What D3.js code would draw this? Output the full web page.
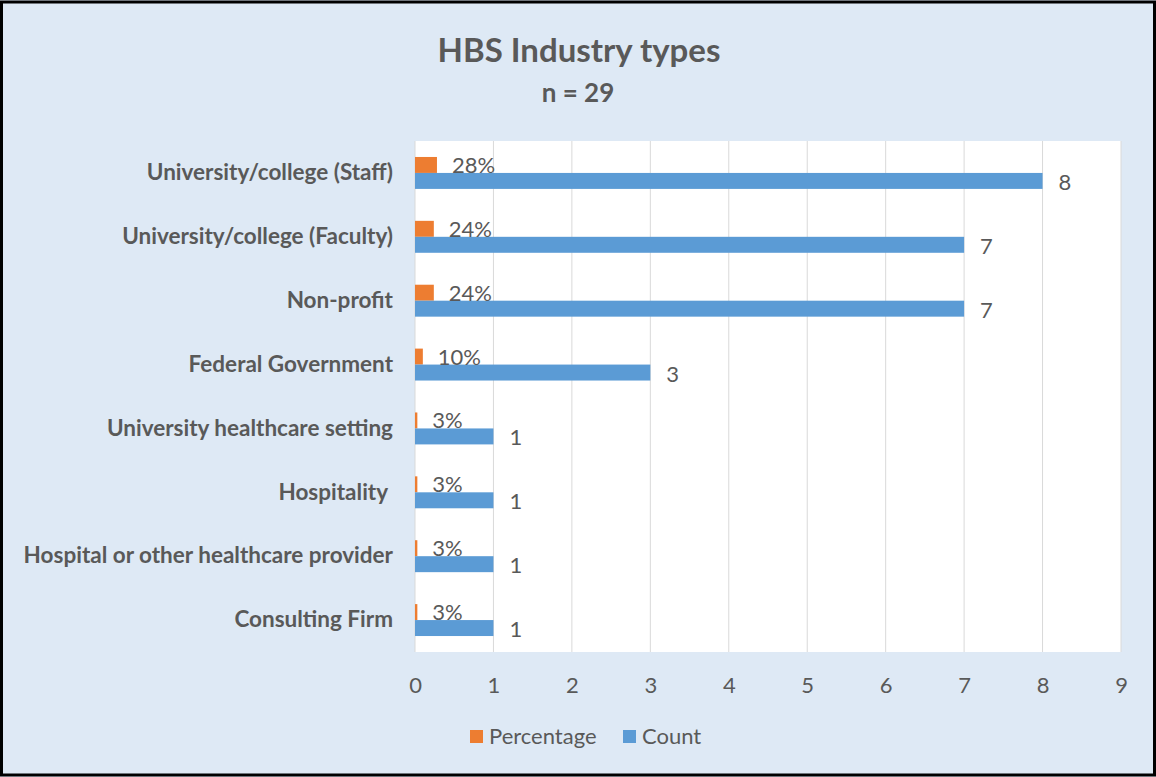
<!DOCTYPE html>
<html>
<head>
<meta charset="utf-8">
<script src="https://cdn.jsdelivr.net/npm/d3@7"></script>
<style>
  body { margin: 0; background: #fff; }
  svg text { font-family: Lato, "Open Sans", sans-serif; fill: #595959; white-space: pre; }
</style>
</head>
<body>
<svg id="chart" width="1156" height="777"></svg>
<script>
// chart values
const categories = [
  'University/college (Staff)',
  'University/college (Faculty)',
  'Non-profit',
  'Federal Government',
  'University healthcare setting',
  'Hospitality ',
  'Hospital or other healthcare provider',
  'Consulting Firm'
];
const percentage = [0.28, 0.24, 0.24, 0.10, 0.03, 0.03, 0.03, 0.03];
const percentLabels = ['28%', '24%', '24%', '10%', '3%', '3%', '3%', '3%'];
const count = [8, 7, 7, 3, 1, 1, 1, 1];
const xTicks = [0, 1, 2, 3, 4, 5, 6, 7, 8, 9];

const W = 1156, H = 777;
const plot = { left: 415, right: 1121, top: 141, bottom: 652 };

const svg = d3.select('#chart');

// background and frame
svg.append('rect').attr('x', 0).attr('y', 0).attr('width', W).attr('height', H).attr('fill', '#dee9f5');
svg.append('rect').attr('x', 1.5).attr('y', 2).attr('width', W - 3).attr('height', H - 4)
  .attr('fill', 'none').attr('stroke', '#000').attr('stroke-width', 3);

// plot area
svg.append('rect')
  .attr('x', plot.left).attr('y', plot.top)
  .attr('width', plot.right - plot.left).attr('height', plot.bottom - plot.top)
  .attr('fill', '#fff');

// scales
const x = d3.scaleLinear().domain([0, 9]).range([plot.left, plot.right]);
const y = d3.scaleBand().domain(categories).range([plot.top, plot.bottom]).paddingInner(0.5).paddingOuter(0.25);
const sub = d3.scaleBand().domain(['Percentage', 'Count']).range([0, y.bandwidth()]);
const color = d3.scaleOrdinal().domain(['Percentage', 'Count']).range(['#ed7d31', '#5b9bd5']);

// gridlines
svg.append('g').selectAll('line').data(xTicks).join('line')
  .attr('x1', d => x(d)).attr('x2', d => x(d))
  .attr('y1', plot.top).attr('y2', plot.bottom)
  .attr('stroke', '#d9d9d9').attr('stroke-width', 1);

// x axis labels
const xAxis = svg.append('g')
  .attr('transform', `translate(0,${plot.bottom})`)
  .call(d3.axisBottom(x).tickValues(xTicks).tickSize(0).tickPadding(25).tickFormat(d3.format('d')));
xAxis.select('.domain').remove();
xAxis.selectAll('text').style('font-size', '22px').style('font-family', 'Lato, sans-serif').attr('fill', '#595959');

// y axis labels
const yAxis = svg.append('g')
  .attr('transform', `translate(${plot.left},0)`)
  .call(d3.axisLeft(y).tickSize(0).tickPadding(22));
yAxis.select('.domain').remove();
yAxis.selectAll('text').style('font-size', '22.5px').style('font-weight', 'bold')
  .style('font-family', 'Lato, sans-serif').attr('fill', '#595959');

// bars
const rows = categories.map((c, i) => ({ cat: c, pct: percentage[i], pctLabel: percentLabels[i], cnt: count[i] }));
const g = svg.append('g');

g.selectAll('rect.pct').data(rows).join('rect').attr('class', 'pct')
  .attr('x', x(0)).attr('y', d => y(d.cat) + sub('Percentage'))
  .attr('width', d => x(d.pct) - x(0)).attr('height', sub.bandwidth())
  .attr('fill', color('Percentage'));

g.selectAll('rect.cnt').data(rows).join('rect').attr('class', 'cnt')
  .attr('x', x(0)).attr('y', d => y(d.cat) + sub('Count'))
  .attr('width', d => x(d.cnt) - x(0)).attr('height', sub.bandwidth())
  .attr('fill', color('Count'));

// data labels
g.selectAll('text.pctl').data(rows).join('text').attr('class', 'pctl')
  .attr('x', d => x(d.pct) + 15)
  .attr('y', d => y(d.cat) + sub('Percentage') + sub.bandwidth())
  .style('font-size', '22px')
  .text(d => d.pctLabel);

g.selectAll('text.cntl').data(rows).join('text').attr('class', 'cntl')
  .attr('x', d => x(d.cnt) + 16)
  .attr('y', d => y(d.cat) + sub('Count') + sub.bandwidth() + 1)
  .style('font-size', '22px')
  .text(d => d.cnt);

// title
svg.append('text').attr('x', 579).attr('y', 62).attr('text-anchor', 'middle')
  .style('font-size', '33px').style('font-weight', 'bold').text('HBS Industry types');
svg.append('text').attr('x', 578).attr('y', 102).attr('text-anchor', 'middle')
  .style('font-size', '26px').style('font-weight', 'bold').text('n = 29');

// legend
const legend = svg.append('g').attr('transform', 'translate(470,736)');
const items = [{ key: 'Percentage', x: 0 }, { key: 'Count', x: 153 }];
const li = legend.selectAll('g').data(items).join('g').attr('transform', d => `translate(${d.x},0)`);
li.append('rect').attr('x', 0).attr('y', -6).attr('width', 13).attr('height', 13).attr('fill', d => color(d.key));
li.append('text').attr('x', 19).attr('y', 8).style('font-size', '22px').text(d => d.key);
</script>
</body>
</html>
